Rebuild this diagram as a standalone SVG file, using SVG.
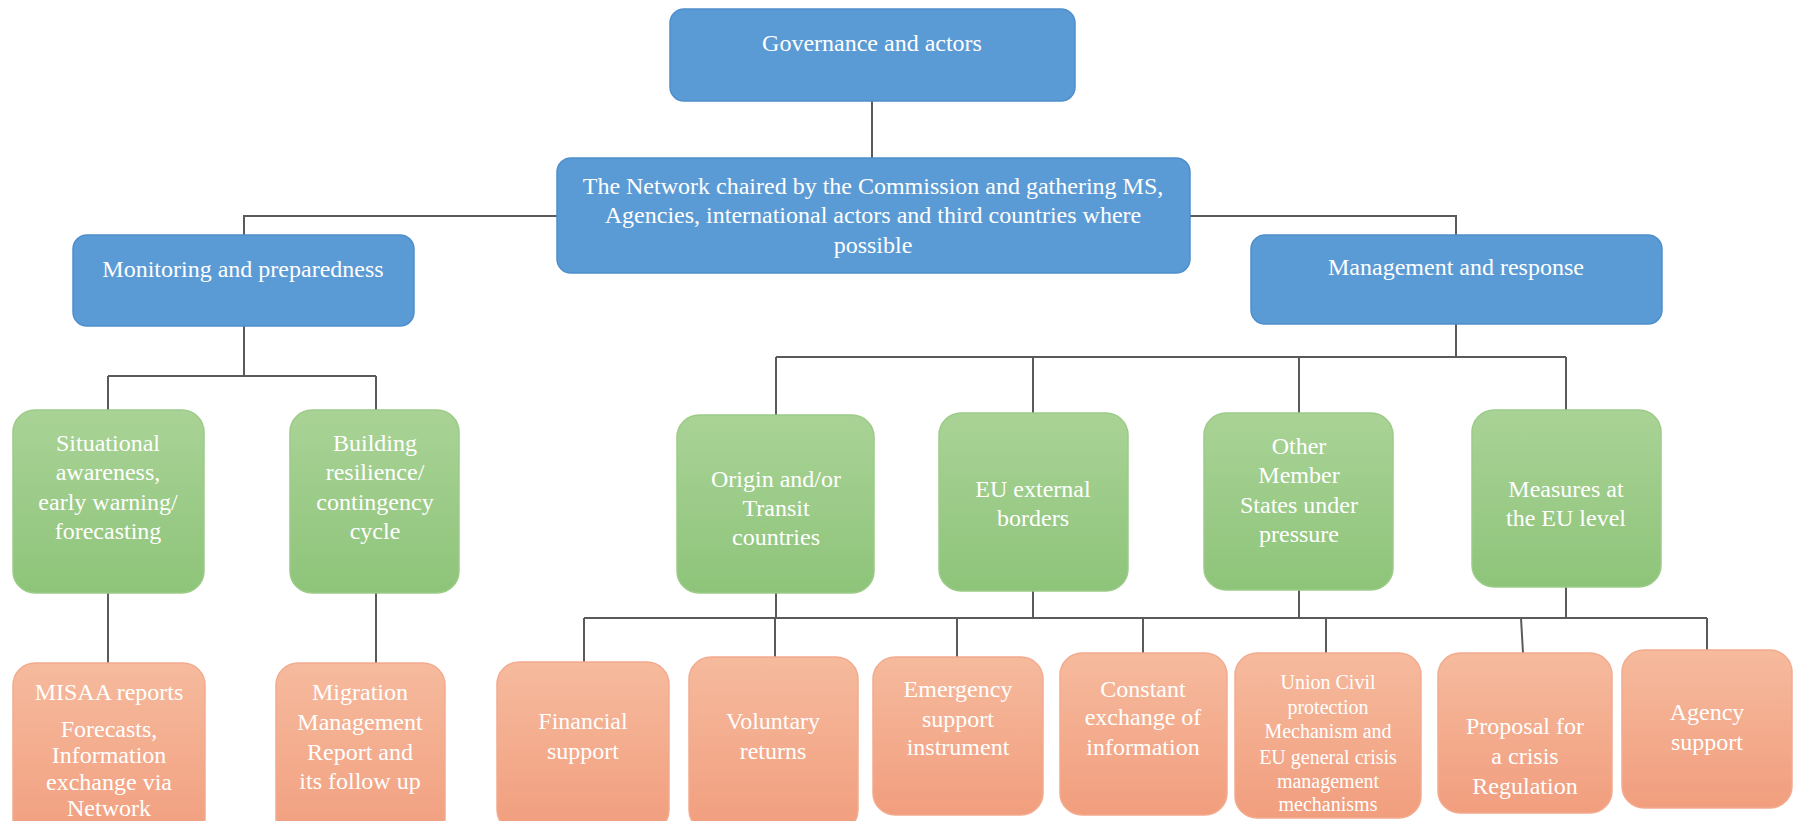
<svg xmlns="http://www.w3.org/2000/svg" width="1797" height="821" viewBox="0 0 1797 821">
<defs>
<linearGradient id="gGreen" x1="0" y1="0" x2="0" y2="1"><stop offset="0" stop-color="#A9D396"/><stop offset="1" stop-color="#8EC47A"/></linearGradient>
<linearGradient id="gOrange" x1="0" y1="0" x2="0" y2="1"><stop offset="0" stop-color="#F6BA9D"/><stop offset="1" stop-color="#F19E7E"/></linearGradient>
<style>
.blue{fill:#5B9BD5;stroke:#4F8FCB;stroke-width:1.5}
.green{fill:url(#gGreen);stroke:#9CCB88;stroke-width:1.5}
.orange{fill:url(#gOrange);stroke:#F2AB8E;stroke-width:1.5}
text{font-family:"Liberation Serif","Times New Roman",serif;font-size:24px;fill:#FFFFFF;text-anchor:middle}
.sm{font-size:20px}
.conn{fill:none;stroke:#5A5A5A;stroke-width:2}
</style>
</defs>
<rect width="1797" height="821" fill="#FFFFFF"/>
<g id="connectors" class="conn">
<path d="M872,101 V158"/>
<path d="M557,216 H244 V235"/>
<path d="M1190,216 H1456 V235"/>
<path d="M244,326 V376 M108,376 H376 M108,376 V410 M376,376 V410"/>
<path d="M1456,324 V357 M776,357 H1566 M776,357 V415 M1033,357 V413 M1299,357 V413 M1566,357 V410"/>
<path d="M108,593 V663 M376,593 V663"/>
<path d="M776,593 V618 M1033,591 V618 M1299,590 V618 M1566,587 V618"/>
<path d="M584,618 H1707"/>
<path d="M584,618 V662 M775,618 V657 M957,618 V657 M1143,618 V653 M1326,618 V653 M1521,618 L1523,653 M1707,618 V650"/>
</g>
<g id="governance"><rect class="blue" x="670" y="9" width="405" height="92" rx="14"/><text x="872" y="51">Governance and actors</text></g>
<g id="network"><rect class="blue" x="557" y="158" width="633" height="115" rx="14"/>
<text x="873" y="194">The Network chaired by the Commission and gathering MS,</text>
<text x="873" y="223">Agencies, international actors and third countries where</text>
<text x="873" y="253">possible</text></g>
<g id="monitoring"><rect class="blue" x="73" y="235" width="341" height="91" rx="14"/><text x="243" y="277">Monitoring and preparedness</text></g>
<g id="management"><rect class="blue" x="1251" y="235" width="411" height="89" rx="14"/><text x="1456" y="275">Management and response</text></g>

<g id="situational"><rect class="green" x="13" y="410" width="191" height="183" rx="22"/>
<text x="108" y="451">Situational</text><text x="108" y="480">awareness,</text><text x="108" y="510">early warning/</text><text x="108" y="539">forecasting</text></g>
<g id="building"><rect class="green" x="290" y="410" width="169" height="183" rx="22"/>
<text x="375" y="451">Building</text><text x="375" y="480">resilience/</text><text x="375" y="510">contingency</text><text x="375" y="539">cycle</text></g>
<g id="origin"><rect class="green" x="677" y="415" width="197" height="178" rx="22"/>
<text x="776" y="487">Origin and/or</text><text x="776" y="516">Transit</text><text x="776" y="545">countries</text></g>
<g id="euexternal"><rect class="green" x="939" y="413" width="189" height="178" rx="22"/>
<text x="1033" y="497">EU external</text><text x="1033" y="526">borders</text></g>
<g id="othermember"><rect class="green" x="1204" y="413" width="189" height="177" rx="22"/>
<text x="1299" y="454">Other</text><text x="1299" y="483">Member</text><text x="1299" y="513">States under</text><text x="1299" y="542">pressure</text></g>
<g id="measures"><rect class="green" x="1472" y="410" width="189" height="177" rx="22"/>
<text x="1566" y="497">Measures at</text><text x="1566" y="526">the EU level</text></g>

<g id="misaa"><rect class="orange" x="13" y="663" width="192" height="185" rx="22"/>
<text x="109" y="700">MISAA reports</text><text x="109" y="737">Forecasts,</text><text x="109" y="763">Information</text><text x="109" y="790">exchange via</text><text x="109" y="816">Network</text></g>
<g id="migration"><rect class="orange" x="276" y="663" width="169" height="185" rx="22"/>
<text x="360" y="700">Migration</text><text x="360" y="730">Management</text><text x="360" y="760">Report and</text><text x="360" y="789">its follow up</text></g>
<g id="financial"><rect class="orange" x="497" y="662" width="172" height="170" rx="22"/>
<text x="583" y="729">Financial</text><text x="583" y="759">support</text></g>
<g id="voluntary"><rect class="orange" x="689" y="657" width="169" height="175" rx="22"/>
<text x="773" y="729">Voluntary</text><text x="773" y="759">returns</text></g>
<g id="emergency"><rect class="orange" x="873" y="657" width="170" height="158" rx="22"/>
<text x="958" y="697">Emergency</text><text x="958" y="727">support</text><text x="958" y="755">instrument</text></g>
<g id="constant"><rect class="orange" x="1060" y="653" width="167" height="162" rx="22"/>
<text x="1143" y="697">Constant</text><text x="1143" y="725">exchange of</text><text x="1143" y="755">information</text></g>
<g id="union"><rect class="orange" x="1235" y="653" width="186" height="165" rx="22"/>
<text class="sm" x="1328" y="689">Union Civil</text><text class="sm" x="1328" y="714">protection</text><text class="sm" x="1328" y="738">Mechanism and</text><text class="sm" x="1328" y="764">EU general crisis</text><text class="sm" x="1328" y="788">management</text><text class="sm" x="1328" y="811">mechanisms</text></g>
<g id="proposal"><rect class="orange" x="1438" y="653" width="174" height="160" rx="22"/>
<text x="1525" y="734">Proposal for</text><text x="1525" y="764">a crisis</text><text x="1525" y="794">Regulation</text></g>
<g id="agency"><rect class="orange" x="1622" y="650" width="170" height="158" rx="22"/>
<text x="1707" y="720">Agency</text><text x="1707" y="750">support</text></g>
</svg>
